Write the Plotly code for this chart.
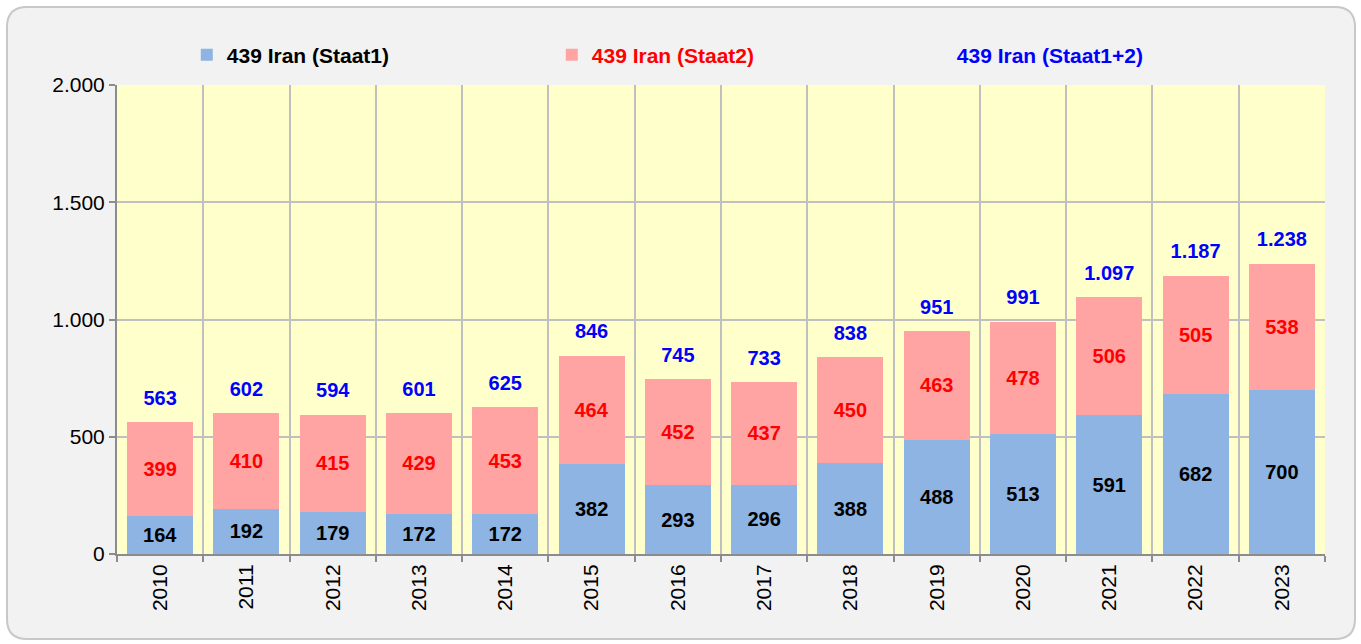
import plotly.graph_objects as go

years = [str(y) for y in range(2010, 2024)]
staat1 = [164, 192, 179, 172, 172, 382, 293, 296, 388, 488, 513, 591, 682, 700]
staat2 = [399, 410, 415, 429, 453, 464, 452, 437, 450, 463, 478, 506, 505, 538]
totals = [563, 602, 594, 601, 625, 846, 745, 733, 838, 951, 991, 1097, 1187, 1238]
y_ticks = [0, 500, 1000, 1500, 2000]

name1 = "439 Iran (Staat1)"
name2 = "439 Iran (Staat2)"
name3 = "439 Iran (Staat1+2)"

FONT = "Arial, Liberation Sans, sans-serif"
BLUE = "#8db4e2"
PINK = "#ffa3a3"

fig = go.Figure()
fig.add_trace(go.Bar(
    x=years, y=staat1, name=name1, marker=dict(color=BLUE, line=dict(width=0)),
    texttemplate="%{y}", textposition="inside", insidetextanchor="middle",
    textangle=0, constraintext="none",
    textfont=dict(family=FONT, size=20, color="black", weight="bold"),
))
fig.add_trace(go.Bar(
    x=years, y=staat2, name="<span style='color:#ff0000'>" + name2 + "</span>",
    marker=dict(color=PINK, line=dict(width=0)),
    texttemplate="%{y}", textposition="inside", insidetextanchor="middle",
    textangle=0, constraintext="none",
    textfont=dict(family=FONT, size=20, color="#ff0000", weight="bold"),
))
fig.add_trace(go.Scatter(
    x=years, y=totals, mode="markers+text", showlegend=False,
    marker=dict(size=18, color="rgba(0,0,0,0)"),
    texttemplate="%{y:,}", textposition="top center",
    textfont=dict(family=FONT, size=20, color="#0000ff", weight="bold"),
))
fig.add_trace(go.Scatter(
    x=[None], y=[None], mode="markers",
    name="<span style='color:#0000ff'>" + name3 + "</span>",
    marker=dict(size=10, color="rgba(0,0,0,0)"),
))

# rounded outer frame (pixels relative to the plot's bottom-left corner)
L, R, T, B = -110, 1238, 547, -85
r = 20
path = (f"M{L+r},{T} L{R-r},{T} Q{R},{T} {R},{T-r} L{R},{B+r} Q{R},{B} {R-r},{B} "
        f"L{L+r},{B} Q{L},{B} {L},{B+r} L{L},{T-r} Q{L},{T} {L+r},{T} Z")
fig.add_shape(type="path", xref="paper", yref="paper", xsizemode="pixel", ysizemode="pixel",
              xanchor=0, yanchor=0, path=path, fillcolor="#f2f2f2",
              line=dict(color="#c8c8c8", width=2), layer="below")
# plot area background
fig.add_shape(type="rect", xref="paper", yref="paper", x0=0, x1=1, y0=0, y1=1,
              fillcolor="#ffffcc", line=dict(width=0), layer="below")

fig.update_layout(
    width=1361, height=644,
    margin=dict(l=117, r=36, t=85, b=90),
    barmode="stack", bargap=0.235,
    paper_bgcolor="white", plot_bgcolor="#ffffcc",
    separators=",.",
    font=dict(family=FONT, size=21, color="black"),
    showlegend=True,
    legend=dict(orientation="h", x=0.511, xanchor="center", y=1.064, yanchor="middle",
                traceorder="normal",
                bgcolor="rgba(0,0,0,0)", entrywidthmode="pixels", entrywidth=320,
                font=dict(family=FONT, size=21, color="black", weight="bold")),
    hovermode=False,
)
fig.update_xaxes(
    type="category", range=[-0.5, 13.5], tickson="boundaries", tickangle=-90,
    showgrid=True, gridcolor="#c0c0c0", gridwidth=2,
    showline=True, linecolor="#8c8c8c", linewidth=2,
    ticks="outside", ticklen=6, tickcolor="#8c8c8c", tickwidth=2,
    tickfont=dict(family=FONT, size=21, color="black"),
)
fig.update_yaxes(
    range=[0, 2000], tickvals=y_ticks, tickformat=",",
    showgrid=True, gridcolor="#c0c0c0", gridwidth=2,
    showline=True, linecolor="#8c8c8c", linewidth=2,
    ticks="outside", ticklen=6, tickcolor="#8c8c8c", tickwidth=2,
    tickfont=dict(family=FONT, size=21, color="black"),
    zeroline=False,
)

fig.write_html("out.html", config={"displayModeBar": False},
               post_script="document.body.style.margin='0';")
